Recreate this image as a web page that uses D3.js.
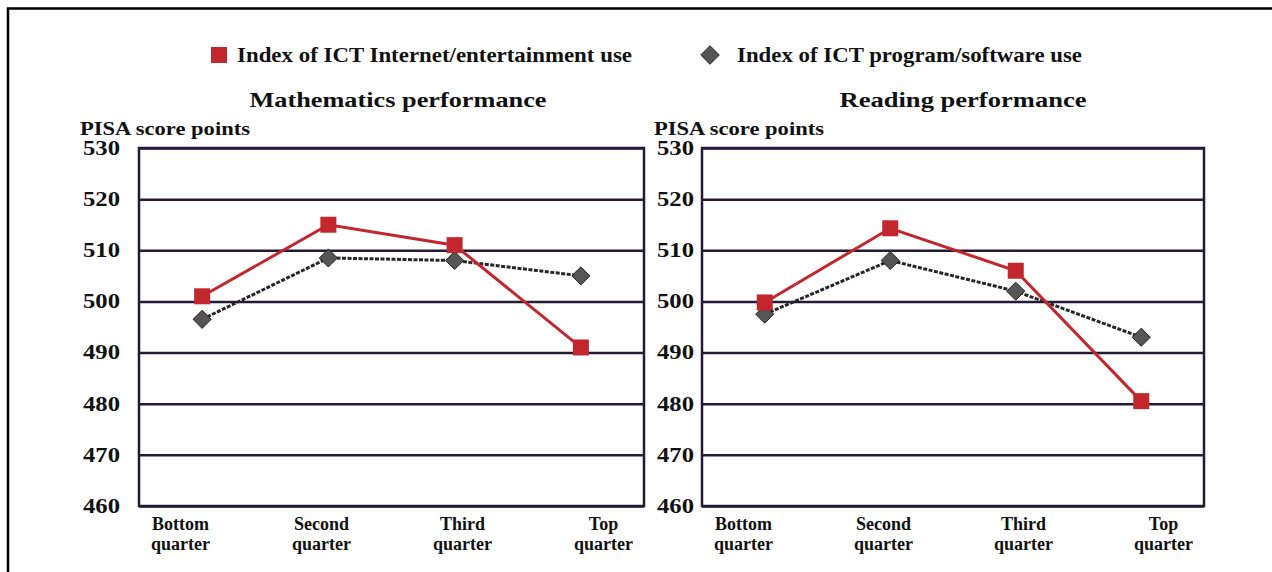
<!DOCTYPE html>
<html>
<head>
<meta charset="utf-8">
<script src="https://cdn.jsdelivr.net/npm/d3@7"></script>
<style>
  html, body { margin: 0; padding: 0; background: #fff; }
  svg { display: block; }
  text { font-family: "Liberation Serif", "DejaVu Serif", serif; fill: #111; }
</style>
</head>
<body>
<svg id="chart" width="1272" height="572"></svg>
<script>
const categories = [["Bottom", "quarter"], ["Second", "quarter"], ["Third", "quarter"], ["Top", "quarter"]];
const categoryKeys = ["Bottom quarter", "Second quarter", "Third quarter", "Top quarter"];
const seriesNames = ["Index of ICT Internet/entertainment use", "Index of ICT program/software use"];
const mathInternet = [501, 515, 511, 491];
const mathProgram = [496.5, 508.5, 508, 505];
const readInternet = [499.8, 514.3, 506, 480.5];
const readProgram = [497.5, 508, 502, 493];
const yTicks = [460, 470, 480, 490, 500, 510, 520, 530];
const panelTitles = ["Mathematics performance", "Reading performance"];
const yAxisLabel = "PISA score points";

const RED = "#c1272d";
const GRID = "#241a36";
const GRAY = "#555555";

const svg = d3.select("#chart");

// outer frame (left and top edges visible)
svg.append("path")
  .attr("d", "M8,572 L8,8.5 L1272,8.5")
  .attr("fill", "none").attr("stroke", "#000").attr("stroke-width", 2.5);

// legend
const lg = svg.append("g");
lg.append("rect").attr("x", 211).attr("y", 47).attr("width", 16).attr("height", 16).attr("fill", RED);
lg.append("text").attr("x", 237).attr("y", 62).attr("font-size", 21).attr("font-weight", "bold")
  .attr("textLength", 395).attr("lengthAdjust", "spacingAndGlyphs").text(seriesNames[0]);
lg.append("path").attr("d", d3.symbol().type(d3.symbolDiamond2).size(220)())
  .attr("transform", "translate(710,55)")
  .attr("fill", GRAY).attr("stroke", "#222").attr("stroke-width", 1);
lg.append("text").attr("x", 737).attr("y", 62).attr("font-size", 21).attr("font-weight", "bold")
  .attr("textLength", 345).attr("lengthAdjust", "spacingAndGlyphs").text(seriesNames[1]);

const panels = [
  { x0: 139, x1: 644, title: panelTitles[0], titleX: 398, titleW: 297, labelX: 80, tickX: 120, series: [mathInternet, mathProgram] },
  { x0: 702, x1: 1204, title: panelTitles[1], titleX: 963, titleW: 247, labelX: 654, tickX: 694, series: [readInternet, readProgram] }
];

const yTop = 148, yBot = 506;
const y = d3.scaleLinear().domain([460, 530]).range([yBot, yTop]);

panels.forEach(p => {
  const g = svg.append("g");
  const x = d3.scalePoint().domain(categoryKeys).range([p.x0, p.x1]).padding(0.5);
  const xl = d3.scalePoint().domain(categoryKeys).range([p.x0 + 41, p.x1 - 41]);

  g.append("text").attr("x", p.titleX).attr("y", 107).attr("text-anchor", "middle")
    .attr("font-size", 21).attr("font-weight", "bold")
    .attr("textLength", p.titleW).attr("lengthAdjust", "spacingAndGlyphs").text(p.title);
  g.append("text").attr("x", p.labelX).attr("y", 135).attr("font-size", 19).attr("font-weight", "bold")
    .attr("textLength", 170).attr("lengthAdjust", "spacingAndGlyphs").text(yAxisLabel);

  // gridlines
  const yAxis = d3.axisLeft(y).tickValues(yTicks).tickSize(-(p.x1 - p.x0)).tickPadding(18).tickFormat(d3.format("d"));
  const ga = g.append("g").attr("transform", `translate(${p.x0},0)`).call(yAxis);
  ga.select(".domain").remove();
  ga.selectAll(".tick line").attr("stroke", GRID).attr("stroke-width", 2.5);
  ga.selectAll(".tick text").attr("font-size", 20).attr("font-weight", "bold")
    .attr("font-family", "Liberation Serif, serif").attr("fill", "#111")
    .attr("x", p.tickX - p.x0).attr("dy", "0.32em")
    .attr("textLength", 37).attr("lengthAdjust", "spacingAndGlyphs");

  // plot frame
  g.append("rect").attr("x", p.x0).attr("y", yTop).attr("width", p.x1 - p.x0).attr("height", yBot - yTop)
    .attr("fill", "none").attr("stroke", GRID).attr("stroke-width", 2.5);

  // category labels (two lines)
  const xa = d3.axisBottom(xl).tickSize(0).tickFormat(() => "");
  const gx = g.append("g").attr("transform", `translate(0,${yBot})`).call(xa);
  gx.select(".domain").remove();
  gx.selectAll(".tick").each(function(d, i) {
    const tk = d3.select(this);
    tk.append("text").attr("text-anchor", "middle").attr("x", 0).attr("y", 24)
      .attr("font-size", 18).attr("font-weight", "bold").attr("fill", "#111")
      .text(categories[i][0]);
    tk.append("text").attr("text-anchor", "middle").attr("x", 0).attr("y", 44)
      .attr("font-size", 18).attr("font-weight", "bold").attr("fill", "#111")
      .text(categories[i][1]);
  });

  const line = d3.line().x((d, i) => x(categoryKeys[i])).y(d => y(d));

  // program/software (gray diamonds, dark dashed line)
  g.append("path").datum(p.series[1]).attr("d", line).attr("fill", "none")
    .attr("stroke", "#262626").attr("stroke-width", 3).attr("stroke-dasharray", "4,1.5");
  g.selectAll(".dia").data(p.series[1]).enter().append("path")
    .attr("d", d3.symbol().type(d3.symbolDiamond2).size(210)())
    .attr("transform", (d, i) => `translate(${x(categoryKeys[i])},${y(d)})`)
    .attr("fill", GRAY).attr("stroke", "#222").attr("stroke-width", 1);

  // internet/entertainment (red squares)
  g.append("path").datum(p.series[0]).attr("d", line).attr("fill", "none")
    .attr("stroke", RED).attr("stroke-width", 3);
  g.selectAll(".sq").data(p.series[0]).enter().append("rect")
    .attr("x", (d, i) => x(categoryKeys[i]) - 8).attr("y", d => y(d) - 8)
    .attr("width", 16).attr("height", 16).attr("fill", RED);
});
</script>
</body>
</html>
